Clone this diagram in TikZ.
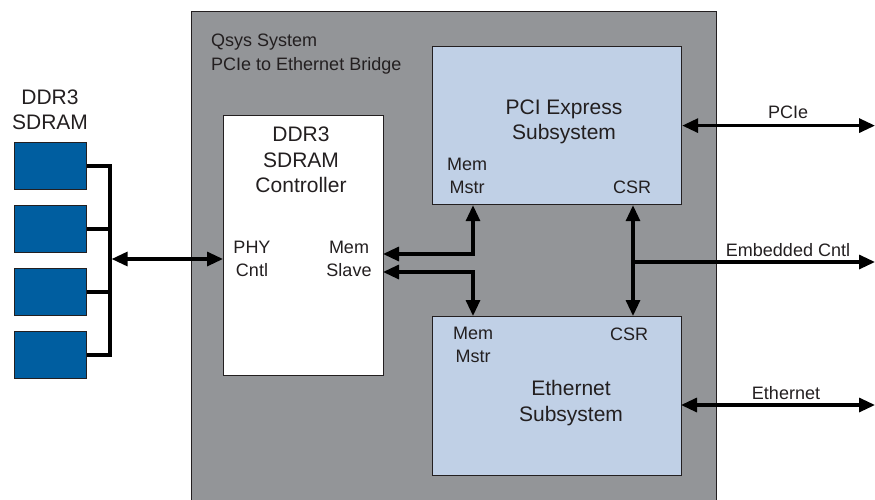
\documentclass[tikz,border=0pt]{standalone}
\usepackage{fontspec}
\setmainfont{Liberation Sans}
\usetikzlibrary{arrows.meta}
\definecolor{sysgray}{RGB}{147,149,152}
\definecolor{subblue}{RGB}{192,208,230}
\definecolor{chipblue}{RGB}{0,94,160}
\definecolor{ink}{RGB}{35,31,32}
\tikzset{
	blk/.style={draw=ink,line width=1.2pt,inner sep=0pt,anchor=north west},
	bigtxt/.style={text=ink,inner sep=0pt,align=center,font=\fontsize{21}{25.5}\selectfont},
	smalltxt/.style={text=ink,inner sep=0pt,align=center,font=\fontsize{18}{23.5}\selectfont},
	link/.style={draw=black,line width=3.2pt}
}
\begin{document}
\begin{tikzpicture}[x=1pt,y=-1pt,line join=miter,>={Triangle[length=16pt,width=14pt]}]
	\useasboundingbox (0,0) rectangle (875,499);
	\clip (0,0) rectangle (875,499);
	\node[blk,fill=sysgray,minimum width=525pt,minimum height=500pt] (sys) at (191,11) {};
	\node[blk,fill=white,minimum width=160pt,minimum height=260pt] (ctrl) at (223,115) {};
	\node[blk,fill=subblue,minimum width=249pt,minimum height=158pt] (pci) at (432,46) {};
	\node[blk,fill=subblue,minimum width=249pt,minimum height=159pt] (eth) at (432,316) {};
	\foreach\i/\y in {1/142, 2/205, 3/268, 4/331}{
		\node[blk,fill=chipblue,line width=0.8pt,minimum width=72pt,minimum height=47pt] (c\i) at (14,\y) {};
	};
	\node[smalltxt,anchor=west,align=left] (title) at (211,54) {Qsys System\\PCIe to Ethernet Bridge};
	\node[bigtxt] (ddrlbl) at (50,110) {DDR3\\SDRAM};
	\node[bigtxt] (ctrllbl) at (301,160) {DDR3\\SDRAM\\Controller};
	\node[smalltxt] (phy) at (252,259) {PHY\\Cntl};
	\node[smalltxt] (slave) at (349,259) {Mem\\Slave};
	\node[bigtxt] (pcilbl) at (564,122) {PCI Express\\Subsystem};
	\node[smalltxt] (pcimm) at (467,176) {Mem\\Mstr};
	\node[smalltxt] (pcicsr) at (632,187) {CSR};
	\node[bigtxt] (ethlbl) at (571,403) {Ethernet\\Subsystem};
	\node[smalltxt] (ethmm) at (473,345) {Mem\\Mstr};
	\node[smalltxt] (ethcsr) at (629,334) {CSR};
	\coordinate (bus) at (110,259);
	\coordinate (edge) at (875,0);
	\coordinate (sl1) at (383,254);
	\coordinate (sl2) at (383,272);
	\coordinate (junc) at (633,262);
	\coordinate (ethport) at (681,405);
	\draw[link] (c1.east) -| (bus |- c4.east) -- (c4.east);
	\foreach\i in {2,3}{
		\draw[link] (c\i.east) -- (c\i.east -| bus);
	};
	\draw[link,<->,shorten <=1.6pt] (bus) -- (bus -| ctrl.west);
	\draw[link,<->] (sl1) -| ([xshift=41pt]pci.south west);
	\draw[link,<->] (sl2) -| ([xshift=41pt]eth.north west);
	\draw[link,<->] ([xshift=201pt]pci.south west) -- ([xshift=201pt]eth.north west);
	\draw[link,->] (junc) -- (junc -| edge);
	\draw[link,<->] (pci.east) -- (pci.east -| edge);
	\draw[link,<->] (ethport) -- (ethport -| edge);
	\node[smalltxt] (pcie) at (788,112) {PCIe};
	\node[smalltxt] (emb) at (788,250) {Embedded Cntl};
	\node[smalltxt] (ethl) at (786,393) {Ethernet};
\end{tikzpicture}
\end{document}
